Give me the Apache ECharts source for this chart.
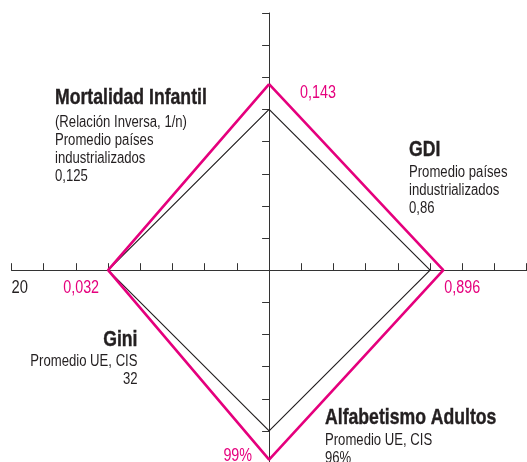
<!DOCTYPE html>
<html>
<head>
<meta charset="utf-8">
<script src="https://cdn.jsdelivr.net/npm/echarts@6/dist/echarts.min.js"></script>
<style>
html,body{margin:0;padding:0;background:#fff;}
#chart{width:527px;height:462px;}
</style>
</head>
<body>
<div id="chart"></div>
<script>
// Axes in clockwise order starting at top
const axisNames = ['Mortalidad Infantil', 'GDI', 'Alfabetismo Adultos', 'Gini'];
// Reference (average) diamond, radius in axis tick units
const referenceRadius = [5, 5, 5, 5];
// Country diamond, radius in axis tick units
const countryRadius = [5.79, 5.41, 5.89, 5.0];
// Country value labels
const countryLabels = ['0,143', '0,896', '99%', '0,032'];
// Reference descriptions
const referenceNotes = [
  ['(Relación Inversa, 1/n)', 'Promedio países', 'industrializados', '0,125'],
  ['Promedio países', 'industrializados', '0,86'],
  ['Promedio UE, CIS', '96%'],
  ['Promedio UE, CIS', '32']
];
// Tick labels on horizontal axis (value -> text)
const xTickValues = [-8];
const xTickTexts = ['20'];

const PINK = '#e5007d';
const DARK = '#231f20';
const FONT = '"Liberation Sans", Arial, sans-serif';
const NARROW = 0.82;

// direction vectors for top, right, bottom, left
const dirs = [[0, 1], [1, 0], [0, -1], [-1, 0]];
function polygon(radii) {
  const pts = radii.map((r, i) => [dirs[i][0] * r, dirs[i][1] * r]);
  pts.push(pts[0]);
  return pts;
}

const chart = echarts.init(document.getElementById('chart'), null, {renderer: 'canvas'});
chart.setOption({
  animation: false,
  backgroundColor: '#fff',
  grid: {left: 11.5, top: 13, width: 515.2, height: 450.1, containLabel: false, outerBoundsMode: 'none'},
  xAxis: {
    type: 'value', min: -8, max: 8, interval: 1,
    axisLine: {onZero: true, lineStyle: {color: '#333', width: 1}},
    axisTick: {inside: true, length: 7, lineStyle: {color: '#333', width: 1}},
    splitLine: {show: false},
    axisLabel: {show: false}
  },
  yAxis: {
    type: 'value', min: -6, max: 8, interval: 1,
    axisLine: {onZero: true, lineStyle: {color: '#333', width: 1}},
    axisTick: {inside: false, length: 7, lineStyle: {color: '#333', width: 1}},
    splitLine: {show: false},
    axisLabel: {show: false}
  },
  series: [
    {
      type: 'line', data: polygon(referenceRadius), symbol: 'none',
      lineStyle: {color: DARK, width: 1.2}, z: 3
    },
    {
      type: 'line', data: polygon(countryRadius), symbol: 'none',
      lineStyle: {color: PINK, width: 2.6}, z: 4
    }
  ]
});

function narrowText(x, y, text, opts) {
  return {
    type: 'text', x: x, y: y, scaleX: NARROW, z: 10,
    style: {
      x: 0, y: 0, text: text, fill: opts.color || DARK,
      font: (opts.bold ? 'bold ' : '') + opts.size + 'px ' + FONT,
      textAlign: opts.align || 'left', textVerticalAlign: 'middle',
      stroke: opts.bold ? (opts.color || DARK) : null,
      lineWidth: opts.bold ? 0.4 : 0
    }
  };
}

const graphics = [];

// pink value labels, anchored at the country diamond's vertices
const labelPlace = [
  {dx: 31, dy: 8.8, align: 'left'},
  {dx: 1, dy: 18, align: 'left'},
  {dx: -17, dy: -3.5, align: 'right'},
  {dx: -9, dy: 17.5, align: 'right'}
];
countryRadius.forEach((r, i) => {
  const p = chart.convertToPixel({gridIndex: 0}, [dirs[i][0] * r, dirs[i][1] * r]);
  graphics.push(narrowText(p[0] + labelPlace[i].dx, p[1] + labelPlace[i].dy, countryLabels[i],
    {color: PINK, size: 17.5, align: labelPlace[i].align}));
});

// axis tick label(s)
xTickValues.forEach((v, i) => {
  const p = chart.convertToPixel({gridIndex: 0}, [v, 0]);
  graphics.push(narrowText(p[0], p[1] + 17.5, xTickTexts[i], {size: 18, align: 'left'}));
});

// annotation blocks
const notePlace = [
  {x: 55, y: 98.5, align: 'left', lines: [122.5, 140.3, 158.3, 176.5]},
  {x: 409, y: 150.5, align: 'left', lines: [173, 190.8, 208.6]},
  {x: 325, y: 418.5, align: 'left', lines: [441, 459]},
  {x: 137.5, y: 340, align: 'right', lines: [362, 380]}
];
axisNames.forEach((name, i) => {
  const p = notePlace[i];
  graphics.push(narrowText(p.x, p.y, name, {bold: true, size: 21.5, align: p.align}));
  referenceNotes[i].forEach((t, j) => {
    graphics.push(narrowText(p.x, p.lines[j], t, {size: 16, align: p.align}));
  });
});

chart.setOption({graphic: graphics});
</script>
</body>
</html>
